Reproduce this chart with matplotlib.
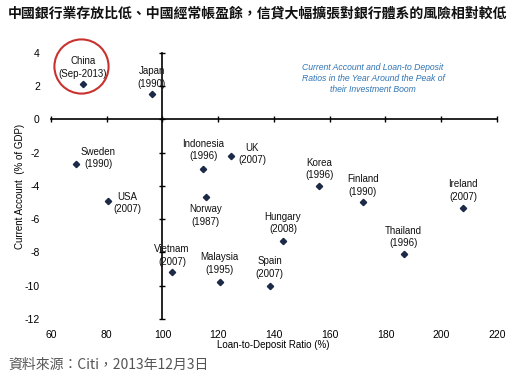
import matplotlib
matplotlib.use("Agg")
import matplotlib.pyplot as plt
from matplotlib import font_manager

# data
countries = ["China", "Japan", "Sweden", "USA", "Indonesia", "UK", "Norway",
             "Vietnam", "Malaysia", "Spain", "Hungary", "Korea", "Finland",
             "Ireland", "Thailand"]
years = ["Sep-2013", "1990", "1990", "2007", "1996", "2007", "1987",
         "2007", "1995", "2007", "2008", "1996", "1990", "2007", "1996"]
ltd_ratio = [71.5, 96.2, 68.8, 80.3, 114.7, 124.6, 115.5,
             103.4, 120.5, 138.4, 143.2, 156.3, 171.9, 207.9, 186.5]
current_account = [2.1, 1.5, -2.7, -4.9, -3.0, -2.2, -4.7,
                   -9.2, -9.75, -10.0, -7.3, -4.0, -5.0, -5.35, -8.1]
x_ticks = [60, 80, 100, 120, 140, 160, 180, 200, 220]
y_ticks = [4, 2, 0, -2, -4, -6, -8, -10, -12]

title = "中國銀行業存放比低、中國經常帳盈餘，信貸大幅擴張對銀行體系的風險相對較低"
source = "資料來源：Citi，2013年12月3日"
note = "Current Account and Loan-to Deposit\nRatios in the Year Around the Peak of\ntheir Investment Boom"

# label offsets in pixels (dx, dy), label block centred there
offsets = {
    "China": (0, 17), "Japan": (0, 17), "Sweden": (23, 6), "USA": (20, -2),
    "Indonesia": (0, 19), "UK": (21, 2), "Norway": (0, -18),
    "Vietnam": (0, 17), "Malaysia": (0, 18), "Spain": (0, 18),
    "Hungary": (0, 18), "Korea": (0, 17), "Finland": (0, 17),
    "Ireland": (0, 18), "Thailand": (0, 17),
}

plt.rcParams["axes.unicode_minus"] = False
names = {f.name for f in font_manager.fontManager.ttflist}
narrow = "Liberation Sans Narrow" if "Liberation Sans Narrow" in names else "Liberation Sans"
cjk = ["Noto Sans CJK TC", "DejaVu Sans"]

fig = plt.figure(figsize=(5.3, 3.82), dpi=100)
ax = fig.add_axes([0.0962, 0.165, 0.8415, 0.697])
ax.set_xlim(60, 220)
ax.set_ylim(-12, 4)

# crossing axes at (100, 0)
ax.spines["left"].set_position(("data", 100))
ax.spines["bottom"].set_position(("data", 0))
ax.spines["top"].set_visible(False)
ax.spines["right"].set_visible(False)
for s in ("left", "bottom"):
    ax.spines[s].set_linewidth(1.2)
ax.set_xticks(x_ticks)
ax.set_yticks(y_ticks)
ax.tick_params(direction="inout", length=4.5, width=1.0,
               labelbottom=False, labelleft=False)

# tick labels along the outer edges
secx = ax.secondary_xaxis(0)
secx.set_xticks(x_ticks)
secx.spines["bottom"].set_visible(False)
secx.tick_params(length=0, pad=8, labelsize=7.5)
secy = ax.secondary_yaxis(0)
secy.set_yticks(y_ticks)
secy.spines["left"].set_visible(False)
secy.tick_params(length=0, pad=8, labelsize=7.5)
for lab in secx.get_xticklabels() + secy.get_yticklabels():
    lab.set_fontfamily(narrow)

ax.plot(ltd_ratio, current_account, linestyle="none", marker="D",
        markersize=3.2, color="#1c2a48", zorder=3)

for name, yr, x, y in zip(countries, years, ltd_ratio, current_account):
    dx, dy = offsets[name]
    ax.annotate(f"{name}\n({yr})", (x, y), xytext=(dx * 0.72, dy * 0.72),
                textcoords="offset points", ha="center", va="center",
                fontsize=7, family=narrow, color="#111111", linespacing=1.3)

# red circle around China
ax.plot([70.6], [3.2], marker="o", markersize=39, mfc="none", mec="#c8322e",
        mew=1.5, clip_on=False, zorder=4)

ax.text(0.722, 0.904, note, transform=ax.transAxes, ha="center", va="center",
        fontsize=6.2, style="italic", family=narrow, color="#2f74b5",
        linespacing=1.25)

fig.text(20 / 530, 1 - 186 / 382, "Current Account  (% of GDP)", rotation=90,
         ha="center", va="center", fontsize=7, family=narrow)
fig.text(273 / 530, 1 - 345 / 382, "Loan-to-Deposit Ratio (%)",
         ha="center", va="center", fontsize=7, family=narrow)

fig.text(8 / 530, 1 - 14 / 382, title, ha="left", va="center",
         fontsize=10, fontweight="bold", family=cjk, color="#111111")
fig.text(8 / 530, 1 - 365 / 382, source, ha="left", va="center",
         fontsize=10, family=cjk, color="#555555")

fig.savefig("out.png", dpi=100)
